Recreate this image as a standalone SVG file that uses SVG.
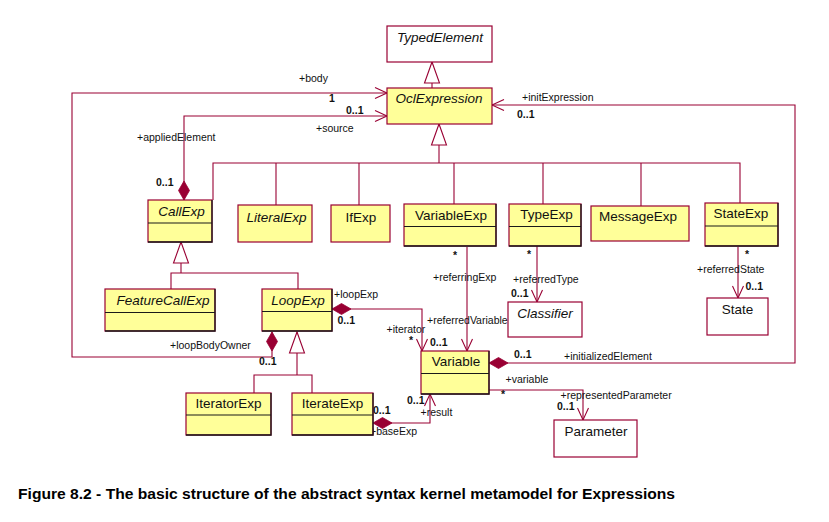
<svg xmlns="http://www.w3.org/2000/svg" width="829" height="522" viewBox="0 0 829 522">
<style>
  .bx{fill:#FFFF99;stroke:#990033;stroke-width:1.2}
  .wb{fill:#FFFFFF;stroke:#990033;stroke-width:1.2}
  .sh{fill:none;stroke:#1a1a1a;stroke-width:1.3}
  .sep{stroke:#1a1a1a;stroke-width:1.2}
  .ln{fill:none;stroke:#990033;stroke-width:1.1}
  .nm{font-family:"Liberation Sans",Arial,sans-serif;font-size:13.5px;fill:#111;text-anchor:middle}
  .it{font-style:italic}
  .lb{font-family:"Liberation Sans",Arial,sans-serif;font-size:10.5px;fill:#111}
  .mu{font-family:"Liberation Sans",Arial,sans-serif;font-size:10.5px;font-weight:bold;fill:#111}
  .cap{font-family:"Liberation Sans",Arial,sans-serif;font-size:14.5px;font-weight:bold;fill:#000}
</style>
<defs>
  <marker id="open" markerUnits="userSpaceOnUse" markerWidth="14" markerHeight="12" refX="12" refY="6" orient="auto" overflow="visible">
    <path d="M0,0.5 L12,6 L0,11.5" fill="none" stroke="#990033" stroke-width="1.1"/>
  </marker>
  <marker id="tri" markerUnits="userSpaceOnUse" markerWidth="22" markerHeight="16" refX="21" refY="7.5" orient="auto" overflow="visible">
    <path d="M0,0 L21,7.5 L0,15 Z" fill="#FFFFFF" stroke="#990033" stroke-width="1.1"/>
  </marker>
  <marker id="dia" markerUnits="userSpaceOnUse" markerWidth="20" markerHeight="12" refX="0" refY="5.5" orient="auto" overflow="visible">
    <path d="M0,5.5 L9.5,0 L19,5.5 L9.5,11 Z" fill="#990033" stroke="#990033" stroke-width="0.8"/>
  </marker>
</defs>

<g id="connectors">
  <!-- generalizations -->
  <path class="ln" d="M432,88 L432,62" marker-end="url(#tri)"/>
  <path class="ln" d="M439,163 L439,124" marker-end="url(#tri)"/>
  <path class="ln" d="M213,200 L213,163 L740,163 L740,203 M276,163 L276,205 M359,163 L359,205 M454,163 L454,204 M543,163 L543,204 M641,163 L641,206"/>
  <path class="ln" d="M181,273 L181,242" marker-end="url(#tri)"/>
  <path class="ln" d="M171,289 L171,273 L298,273 L298,289"/>
  <path class="ln" d="M297,375 L297,332" marker-end="url(#tri)"/>
  <path class="ln" d="M254,393 L254,375 L312,375 L312,393"/>
  <!-- associations -->
  <path class="ln" d="M272,332 L272,357 L72,357 L72,93 L387,93" marker-start="url(#dia)" marker-end="url(#open)"/>
  <path class="ln" d="M184,200 L184,116 L387,116" marker-start="url(#dia)" marker-end="url(#open)"/>
  <path class="ln" d="M489,363 L795,363 L795,105 L492,105" marker-start="url(#dia)" marker-end="url(#open)"/>
  <path class="ln" d="M332,309 L422,309 L422,351" marker-start="url(#dia)" marker-end="url(#open)"/>
  <path class="ln" d="M467,247 L467,351" marker-end="url(#open)"/>
  <path class="ln" d="M537,246 L537,302" marker-end="url(#open)"/>
  <path class="ln" d="M738,247 L738,298" marker-end="url(#open)"/>
  <path class="ln" d="M489,390 L583,390 L583,420" marker-end="url(#open)"/>
  <path class="ln" d="M373,423 L430,423 L430,394" marker-start="url(#dia)" marker-end="url(#open)"/>
</g>

<g id="labels">
  <text class="lb" x="299" y="82">+body</text>
  <text class="mu" x="329" y="102">1</text>
  <text class="mu" x="346" y="114">0..1</text>
  <text class="lb" x="316" y="132">+source</text>
  <text class="lb" x="137" y="141">+appliedElement</text>
  <text class="mu" x="156" y="186">0..1</text>
  <text class="lb" x="522" y="100.5">+initExpression</text>
  <text class="mu" x="517" y="118">0..1</text>
  <text class="mu" x="453" y="259">*</text>
  <text class="lb" x="433" y="280.5">+referringExp</text>
  <text class="lb" x="427" y="324">+referredVariable</text>
  <text class="mu" x="527" y="258">*</text>
  <text class="lb" x="513" y="283">+referredType</text>
  <text class="mu" x="511" y="297">0..1</text>
  <text class="mu" x="745" y="257.5">*</text>
  <text class="lb" x="697" y="273">+referredState</text>
  <text class="mu" x="745.5" y="289.5">0..1</text>
  <text class="lb" x="334" y="298">+loopExp</text>
  <text class="mu" x="337.5" y="324">0..1</text>
  <text class="lb" x="386.5" y="333">+iterator</text>
  <text class="mu" x="409" y="344">*</text>
  <text class="mu" x="430" y="345.5">0..1</text>
  <text class="lb" x="170" y="349">+loopBodyOwner</text>
  <text class="mu" x="259" y="364.5">0..1</text>
  <text class="mu" x="514" y="358">0..1</text>
  <text class="lb" x="564" y="359.5">+initializedElement</text>
  <text class="lb" x="505.5" y="383">+variable</text>
  <text class="mu" x="501" y="397.5">*</text>
  <text class="lb" x="560.5" y="399">+representedParameter</text>
  <text class="mu" x="557" y="409.5">0..1</text>
  <text class="mu" x="407" y="404">0..1</text>
  <text class="lb" x="420.5" y="415.5">+result</text>
  <text class="mu" x="373" y="414">0..1</text>
  <text class="lb" x="370" y="434.5">+baseExp</text>
</g>

<g id="TypedElement">
  <rect class="wb" x="387" y="26" width="105" height="36"/>
  <text class="nm it" x="440" y="41.5">TypedElement</text>
</g>
<g id="OclExpression">
  <rect class="bx" x="387" y="88" width="105" height="36"/>
  <text class="nm it" x="439" y="102.5">OclExpression</text>
</g>
<g id="CallExp">
  <rect class="bx" x="148" y="200" width="64" height="42"/>
  <line class="sep" x1="148" y1="223" x2="212" y2="223"/>
  <path class="sh" d="M212,200 L212,242 L148,242"/>
  <text class="nm it" x="181.5" y="216">CallExp</text>
</g>
<g id="LiteralExp">
  <rect class="bx" x="238" y="205" width="74" height="37"/>
  <text class="nm it" x="276.5" y="221.5">LiteralExp</text>
</g>
<g id="IfExp">
  <rect class="bx" x="331" y="205" width="59" height="37"/>
  <text class="nm" x="361" y="221.5">IfExp</text>
</g>
<g id="VariableExp">
  <rect class="bx" x="404" y="204" width="92" height="42"/>
  <line class="sep" x1="404" y1="226.5" x2="496" y2="226.5"/>
  <path class="sh" d="M496,204 L496,246 L404,246"/>
  <text class="nm" x="451" y="220">VariableExp</text>
</g>
<g id="TypeExp">
  <rect class="bx" x="509" y="204" width="72" height="42"/>
  <line class="sep" x1="509" y1="226.5" x2="581" y2="226.5"/>
  <path class="sh" d="M581,204 L581,246 L509,246"/>
  <text class="nm" x="546.5" y="219">TypeExp</text>
</g>
<g id="MessageExp">
  <rect class="bx" x="591" y="206" width="98" height="35"/>
  <text class="nm" x="638" y="220.5">MessageExp</text>
</g>
<g id="StateExp">
  <rect class="bx" x="705" y="203" width="73" height="43"/>
  <line class="sep" x1="705" y1="226" x2="778" y2="226"/>
  <path class="sh" d="M778,203 L778,246 L705,246"/>
  <text class="nm" x="741" y="218">StateExp</text>
</g>
<g id="FeatureCallExp">
  <rect class="bx" x="105" y="289" width="110" height="42"/>
  <line class="sep" x1="105" y1="312.5" x2="215" y2="312.5"/>
  <path class="sh" d="M215,289 L215,331 L105,331"/>
  <text class="nm it" x="163" y="305">FeatureCallExp</text>
</g>
<g id="LoopExp">
  <rect class="bx" x="262" y="289" width="70" height="42"/>
  <line class="sep" x1="262" y1="311.5" x2="332" y2="311.5"/>
  <path class="sh" d="M332,289 L332,331 L262,331"/>
  <text class="nm it" x="298" y="305">LoopExp</text>
</g>
<g id="Classifier">
  <rect class="wb" x="508" y="302" width="74" height="35"/>
  <text class="nm it" x="545" y="318">Classifier</text>
</g>
<g id="State">
  <rect class="wb" x="707" y="298" width="61" height="37"/>
  <text class="nm" x="737.5" y="314">State</text>
</g>
<g id="Variable">
  <rect class="bx" x="421" y="351" width="68" height="43"/>
  <line class="sep" x1="421" y1="373.5" x2="489" y2="373.5"/>
  <path class="sh" d="M489,351 L489,394 L421,394"/>
  <text class="nm" x="456" y="366">Variable</text>
</g>
<g id="IteratorExp">
  <rect class="bx" x="186" y="393" width="85" height="42"/>
  <line class="sep" x1="186" y1="415" x2="271" y2="415"/>
  <path class="sh" d="M271,393 L271,435 L186,435"/>
  <text class="nm" x="228.5" y="408">IteratorExp</text>
</g>
<g id="IterateExp">
  <rect class="bx" x="292" y="393" width="81" height="42"/>
  <line class="sep" x1="292" y1="415" x2="373" y2="415"/>
  <path class="sh" d="M373,393 L373,435 L292,435"/>
  <text class="nm" x="332.5" y="408">IterateExp</text>
</g>
<g id="Parameter">
  <rect class="wb" x="554" y="420" width="83" height="37"/>
  <text class="nm" x="596" y="435.5">Parameter</text>
</g>

<text class="cap" x="18" y="499" textLength="657" lengthAdjust="spacingAndGlyphs">Figure 8.2 - The basic structure of the abstract syntax kernel metamodel for Expressions</text>
</svg>
